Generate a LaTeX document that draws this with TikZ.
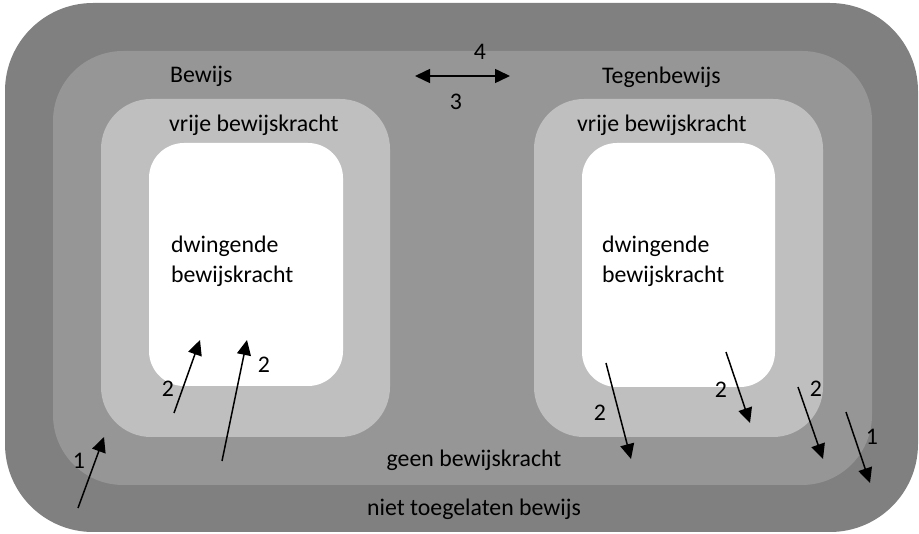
\documentclass[tikz,border=0pt]{standalone}
\usepackage{fontspec}
\setmainfont{Carlito}
\usetikzlibrary{arrows.meta}
\definecolor{ringdark}{HTML}{808080}
\definecolor{ringmid}{HTML}{969696}
\definecolor{ringlight}{HTML}{BFBFBF}
\tikzset{
  lbl/.style={inner sep=0pt,font=\fontsize{23.8}{30}\selectfont},
  num/.style={lbl,anchor=center},
  pijl/.style={line width=1.5pt,-{Triangle[length=15pt,width=14pt]}}
}
\begin{document}
\begin{tikzpicture}[x=1pt,y=-1pt]
    \useasboundingbox(0,0)rectangle(919,534);
    % vlakken
    \fill[ringdark,rounded corners=88](5,3)rectangle(918,532);
    \fill[ringmid,rounded corners=70](53,51)rectangle(872,485);
    \fill[ringlight,rounded corners=50](101,99)rectangle(390,437);
    \fill[ringlight,rounded corners=50](534,99)rectangle(823,437);
    \fill[white,rounded corners=35](149,143)rectangle(343,386);
    \fill[white,rounded corners=35](582,143)rectangle(775,387);
    % teksten
    \node[lbl,anchor=base west](bew)at(170,83){Bewijs};
    \node[lbl,anchor=base west](teg)at(602,84){Tegenbewijs};
    \node[lbl,anchor=base west](vrijL)at(169,132){vrije bewijskracht};
    \node[lbl,anchor=base west](vrijR)at(577,132){vrije bewijskracht};
    \node[lbl,anchor=base west,align=left](dwL)at(171,283){dwingende\\bewijskracht};
    \node[lbl,anchor=base west,align=left](dwR)at(602,283){dwingende\\bewijskracht};
    \node[lbl,anchor=base](geen)at(474,467){geen bewijskracht};
    \node[lbl,anchor=base](niet)at(474,515){niet toegelaten bewijs};
    % pijlen
    \coordinate(P)at(415,76);
    \coordinate(Q)at(510,76);
    \draw[line width=1.5pt,{Triangle[length=15pt,width=14pt]}-{Triangle[length=15pt,width=14pt]}](P)--(Q);
    \node[num](n4)at(480,52){4};
    \node[num](n3)at(456,102){3};
    \coordinate(A1)at(78,508);
    \coordinate(A2)at(104,437);
    \draw[pijl](A1)--(A2);
    \node[num](a)at(79,461){1};
    \coordinate(B1)at(174,413);
    \coordinate(B2)at(200,340);
    \draw[pijl](B1)--(B2);
    \node[num](b)at(168,389){2};
    \coordinate(C1)at(222,461);
    \coordinate(C2)at(247,340);
    \draw[pijl](C1)--(C2);
    \node[num](c)at(264,365){2};
    \coordinate(D1)at(606,363);
    \coordinate(D2)at(631,459);
    \draw[pijl](D1)--(D2);
    \node[num](d)at(600,413){2};
    \coordinate(E1)at(726,352);
    \coordinate(E2)at(750,423);
    \draw[pijl](E1)--(E2);
    \node[num](e)at(721,390){2};
    \coordinate(F1)at(798,387);
    \coordinate(F2)at(823,459);
    \draw[pijl](F1)--(F2);
    \node[num](f)at(816,389){2};
    \coordinate(G1)at(846,412);
    \coordinate(G2)at(870,483);
    \draw[pijl](G1)--(G2);
    \node[num](g)at(872,437){1};
\end{tikzpicture}
\end{document}
